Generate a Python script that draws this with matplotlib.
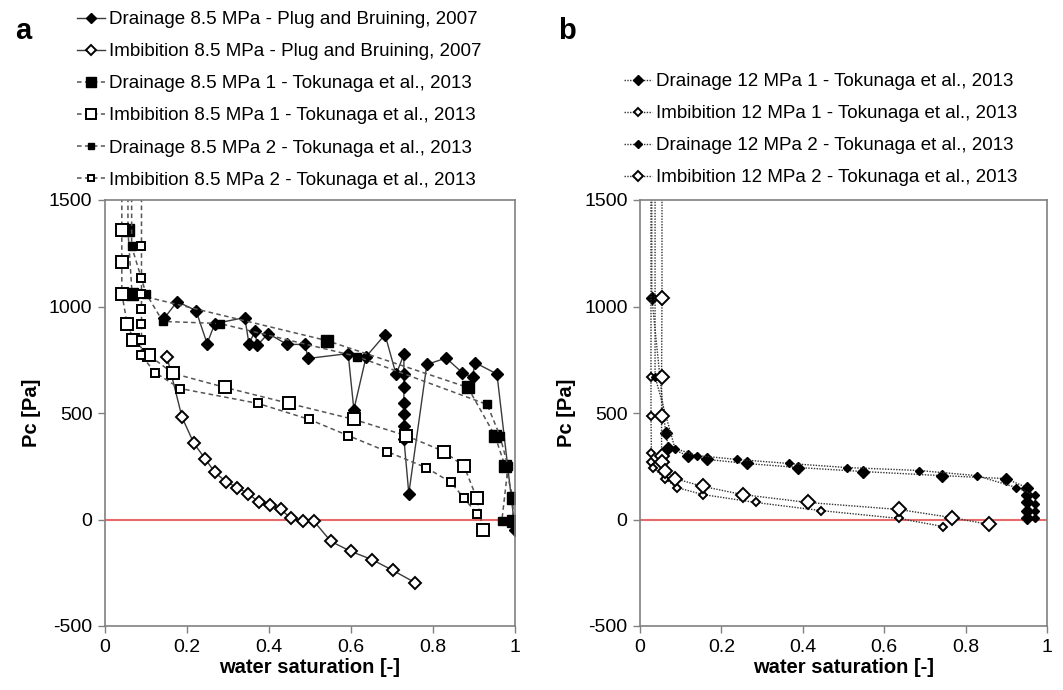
import numpy as np
import matplotlib.pyplot as plt

plt.rcParams['font.family'] = ['Liberation Sans', 'DejaVu Sans']
plt.rcParams['axes.unicode_minus'] = False

TOP = 2500  # value used where a curve leaves through the top of the plot

# ---- panel a : 8.5 MPa ----
pb_dr_x = [0.144, 0.176, 0.222, 0.249, 0.268, 0.341, 0.351, 0.366, 0.371, 0.398, 0.444, 0.488, 0.495,
           0.593, 0.607, 0.637, 0.683, 0.710, 0.729, 0.729, 0.729, 0.729, 0.729, 0.729, 0.729, 0.741,
           0.785, 0.832, 0.871, 0.897, 0.902, 0.956, 1.0]
pb_dr_y = [944, 1023, 981, 826, 920, 948, 826, 883, 817, 873, 822, 822, 756,
           779, 516, 765, 868, 681, 775, 681, 620, 545, 493, 441, 380, 122,
           728, 758, 690, 667, 737, 683, -47]

pb_im_x = [0.151, 0.188, 0.217, 0.244, 0.268, 0.295, 0.322, 0.349, 0.376, 0.402, 0.429, 0.454, 0.484,
           0.510, 0.551, 0.600, 0.651, 0.702, 0.756]
pb_im_y = [765, 479, 357, 286, 221, 178, 150, 122, 80, 70, 47, 5, -5,
           -9, -103, -150, -188, -239, -296]

tk_dr1_x = [0.056, 0.056, 0.066, 0.541, 0.885, 0.951, 0.976, 0.995, 0.995]
tk_dr1_y = [TOP, 1357, 1061, 840, 620, 394, 249, 103, -5]

tk_im1_x = [0.041, 0.041, 0.041, 0.041, 0.054, 0.069, 0.108, 0.166, 0.293, 0.449, 0.607, 0.734,
            0.827, 0.876, 0.907, 0.922]
tk_im1_y = [TOP, 1357, 1207, 1061, 920, 845, 770, 686, 620, 545, 470, 394,
            319, 249, 99, -47]

tk_dr2_x = [0.065, 0.065, 0.100, 0.141, 0.280, 0.615, 0.932, 0.963, 0.983, 0.968]
tk_dr2_y = [TOP, 1282, 1061, 930, 920, 765, 540, 394, 249, -5]

tk_im2_x = [0.089, 0.089, 0.089, 0.089, 0.089, 0.089, 0.089, 0.089, 0.122, 0.183, 0.373, 0.498,
            0.593, 0.688, 0.783, 0.844, 0.876, 0.907]
tk_im2_y = [TOP, 1282, 1136, 1061, 990, 920, 845, 770, 690, 615, 545, 470,
            394, 319, 244, 174, 99, 28]

# ---- panel b : 12 MPa ----
b_dr1_x = [0.029, 0.029, 0.063, 0.070, 0.117, 0.165, 0.262, 0.389, 0.549, 0.741, 0.899, 0.950,
           0.950, 0.950, 0.950, 0.950]
b_dr1_y = [TOP, 1042, 408, 338, 300, 282, 263, 244, 225, 206, 192, 150,
           113, 80, 42, 5]

b_im1_x = [0.027, 0.027, 0.027, 0.028, 0.028, 0.032, 0.061, 0.090, 0.155, 0.284, 0.444, 0.636, 0.745]
b_im1_y = [TOP, 671, 484, 310, 268, 244, 192, 150, 117, 80, 42, 5, -33]

b_dr2_x = [0.037, 0.037, 0.086, 0.141, 0.238, 0.366, 0.508, 0.686, 0.827, 0.925, 0.970, 0.970,
           0.970, 0.970]
b_dr2_y = [TOP, 671, 333, 300, 282, 263, 244, 230, 206, 150, 113, 75,
           42, 5]

b_im2_x = [0.054, 0.054, 0.053, 0.053, 0.053, 0.053, 0.061, 0.086, 0.155, 0.252, 0.412, 0.636,
           0.766, 0.857]
b_im2_y = [TOP, 1042, 671, 484, 300, 268, 230, 192, 155, 117, 80, 47,
           9, -23]

labels_a = ['Drainage 8.5 MPa - Plug and Bruining, 2007',
            'Imbibition 8.5 MPa - Plug and Bruining, 2007',
            'Drainage 8.5 MPa 1 - Tokunaga et al., 2013',
            'Imbibition 8.5 MPa 1 - Tokunaga et al., 2013',
            'Drainage 8.5 MPa 2 - Tokunaga et al., 2013',
            'Imbibition 8.5 MPa 2 - Tokunaga et al., 2013']
labels_b = ['Drainage 12 MPa 1 - Tokunaga et al., 2013',
            'Imbibition 12 MPa 1 - Tokunaga et al., 2013',
            'Drainage 12 MPa 2 - Tokunaga et al., 2013',
            'Imbibition 12 MPa 2 - Tokunaga et al., 2013']

fig = plt.figure(figsize=(10.63, 6.90), dpi=100)
W, H = 1063.0, 690.0
ax_a = fig.add_axes([105 / W, 1 - 626 / H, 410 / W, 426 / H])
ax_b = fig.add_axes([640 / W, 1 - 626 / H, 407 / W, 426 / H])

solid = dict(color='#3a3a3a', lw=1.0, ls='-')
dash = dict(color='#555555', lw=1.1, ls=(0, (3, 2.2)))
dot = dict(color='#333333', lw=1.0, ls=(0, (1, 1)))
filled = dict(mfc='black', mec='black', mew=1.0)
hollow = dict(mfc='white', mec='black', mew=1.4)

ha = []
ha += ax_a.plot(pb_dr_x, pb_dr_y, marker='D', ms=6.5, **solid, **filled)
ha += ax_a.plot(pb_im_x, pb_im_y, marker='D', ms=6.5, **solid, **hollow)
ha += ax_a.plot(tk_dr1_x, tk_dr1_y, marker='s', ms=8.5, **dash, **filled)
ha += ax_a.plot(tk_im1_x, tk_im1_y, marker='s', ms=8.5, **dash, **hollow)
ha += ax_a.plot(tk_dr2_x, tk_dr2_y, marker='s', ms=5.5, **dash, **filled)
ha += ax_a.plot(tk_im2_x, tk_im2_y, marker='s', ms=5.5, **dash, **hollow)

hb = []
hb += ax_b.plot(b_dr1_x, b_dr1_y, marker='D', ms=6.5, **dot, **filled)
hb += ax_b.plot(b_im1_x, b_im1_y, marker='D', ms=4.5, **dot, **hollow)
hb += ax_b.plot(b_dr2_x, b_dr2_y, marker='D', ms=4.5, **dot, **filled)
hb += ax_b.plot(b_im2_x, b_im2_y, marker='D', ms=7.0, **dot, **hollow)

for ax in (ax_a, ax_b):
    ax.axhline(0, color='#e86a6a', lw=1.5, zorder=1)
    ax.set_xlim(0, 1)
    ax.set_ylim(-500, 1500)
    ax.set_xticks([0, 0.2, 0.4, 0.6, 0.8, 1.0])
    ax.set_xticklabels(['0', '0.2', '0.4', '0.6', '0.8', '1'])
    ax.set_yticks([-500, 0, 500, 1000, 1500])
    ax.tick_params(direction='out', length=5, width=1, color='#808080', labelsize=14, pad=4)
    for s in ax.spines.values():
        s.set_color('#808080')
        s.set_linewidth(1.2)
    ax.set_xlabel('water saturation [-]', fontsize=14.5, fontweight='bold', labelpad=2)
    ax.set_ylabel('Pc [Pa]', fontsize=14.5, fontweight='bold', labelpad=6)

leg_kw = dict(loc='upper left', frameon=False, fontsize=13.5, borderpad=0, borderaxespad=0,
              handlelength=1.5, handletextpad=0.2, labelspacing=0.8, markerscale=0.8,
              bbox_transform=fig.transFigure)
fig.legend(ha, labels_a, bbox_to_anchor=(77 / W, 1 - 11 / H), **leg_kw)
fig.legend(hb, labels_b, bbox_to_anchor=(624 / W, 1 - 73 / H), **leg_kw)

fig.text(15 / W, 1 - 39 / H, 'a', fontsize=21, fontweight='bold')
fig.text(558 / W, 1 - 39 / H, 'b', fontsize=21, fontweight='bold')

fig.savefig('out.png', dpi=100)
